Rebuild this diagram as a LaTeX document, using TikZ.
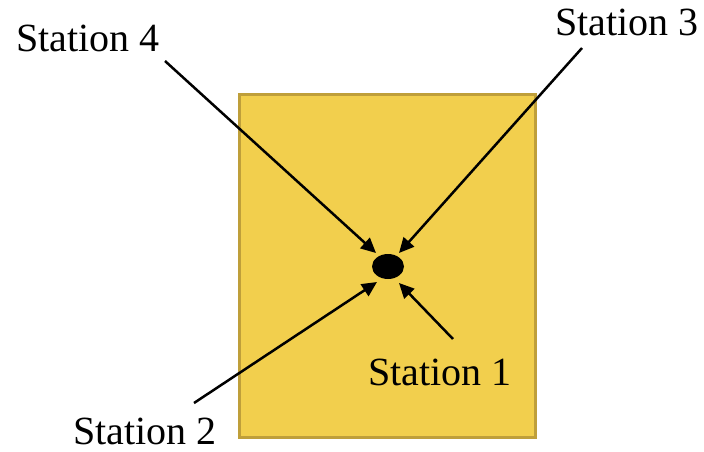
\documentclass[tikz,border=0pt]{standalone}
\usepackage{fontspec}
\setmainfont{Liberation Serif}
\usetikzlibrary{arrows.meta, shapes.geometric}
\definecolor{slabfill}{HTML}{F2CF4D}
\definecolor{slabedge}{HTML}{BF9F3A}

\begin{document}
\begin{tikzpicture}[
    x=1pt, y=-1pt,
    stalabel/.style={font=\fontsize{40}{44}\selectfont, inner sep=0pt},
    arr/.style={-{Triangle[length=15pt, width=14pt]}, line width=2.5pt, black},
]
  \useasboundingbox (0,0) rectangle (704,452);

  % plate
  \draw[draw=slabedge, fill=slabfill, line width=2.5pt]
    (239.5,94.5) rectangle (535.5,437.5);

  % source point
  \node[ellipse, fill=black, minimum width=32pt, minimum height=25pt,
        inner sep=0pt] (src) at (388,266.5) {};

  % stations
  \node[stalabel] (s4) at (88,38)   {Station 4};
  \node[stalabel] (s3) at (627,22)  {Station 3};
  \node[stalabel] (s2) at (145,431) {Station 2};
  \node[stalabel] (s1) at (440,372) {Station 1};

  \coordinate (s4a) at (165,61);
  \coordinate (s3a) at (582,48);
  \coordinate (s2a) at (194,403);
  \coordinate (s1a) at (453,339);

  \coordinate (t4) at (376,253);
  \coordinate (t3) at (399,253);
  \coordinate (t2) at (377,282);
  \coordinate (t1) at (399,283);

  \draw[arr] (s4a) -- (t4);
  \draw[arr] (s3a) -- (t3);
  \draw[arr] (s2a) -- (t2);
  \draw[arr] (s1a) -- (t1);

\end{tikzpicture}
\end{document}
